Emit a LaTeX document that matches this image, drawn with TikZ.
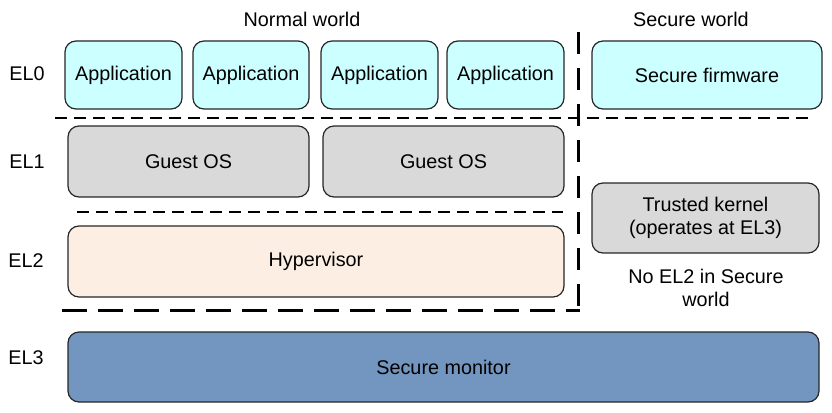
\documentclass[tikz,border=0pt]{standalone}
\usepackage{fontspec}
\setmainfont{Liberation Sans}
\definecolor{appfill}{HTML}{CCFFFF}
\definecolor{osfill}{HTML}{D9D9D9}
\definecolor{hypfill}{HTML}{FCEEE2}
\definecolor{monfill}{HTML}{7396C0}
\begin{document}
\begin{tikzpicture}[x=1pt,y=-1pt,
  font=\fontsize{19.8pt}{23pt}\selectfont,
  box/.style={draw=black!85, line width=1.2pt, rounded corners=11pt, inner sep=0pt, align=center},
  appbox/.style={box, fill=appfill, minimum height=68pt},
  osbox/.style={box, fill=osfill, minimum height=71pt},
  thindash/.style={line width=1.6pt, dash pattern=on 12pt off 7pt},
  thickdash/.style={line width=3pt, dash pattern=on 25pt off 11pt},
  vdash/.style={line width=3pt, dash pattern=on 22pt off 14pt},
  lbl/.style={inner sep=0pt}]
\useasboundingbox (0,0) rectangle (832,412);
% titles
\node[lbl] (nw) at (302,19) {Normal world};
\node[lbl] (sw) at (691,19) {Secure world};
% EL labels
\node[lbl] (el0) at (27,74) {EL0};
\node[lbl] (el1) at (27,162) {EL1};
\node[lbl] (el2) at (26,261) {EL2};
\node[lbl] (el3) at (26,358) {EL3};
% EL0
\node[appbox, minimum width=117pt] (a1) at (123.5,75) {Application};
\node[appbox, minimum width=116pt] (a2) at (251,75) {Application};
\node[appbox, minimum width=117pt] (a3) at (379.5,75) {Application};
\node[appbox, minimum width=117pt] (a4) at (505.5,75) {Application};
\node[appbox, minimum width=230pt] (sf) at (707,75) {Secure firmware};
% EL1
\node[osbox, minimum width=241pt] (g1) at (188.5,161.5) {Guest OS};
\node[osbox, minimum width=241pt] (g2) at (443.5,161.5) {Guest OS};
\node[osbox, minimum width=227pt, minimum height=70pt] (tk) at (705.5,218) {Trusted kernel\\(operates at EL3)};
% EL2
\node[box, fill=hypfill, minimum width=496pt, minimum height=71pt] (hyp) at (316,261.5) {Hypervisor};
\node[lbl, align=center] (no2) at (706,288) {No EL2 in Secure\\world};
% EL3
\node[box, fill=monfill, minimum width=751pt, minimum height=70pt] (sm) at (443.5,367) {Secure monitor};
% separators
\draw[thindash] (55,118) -- (812,118);
\draw[thindash] (77,212) -- (563,212);
\draw[thickdash] (62,310) -- (579.5,310);
\draw[vdash] (578,32) -- (578,311.5);
\end{tikzpicture}
\end{document}
